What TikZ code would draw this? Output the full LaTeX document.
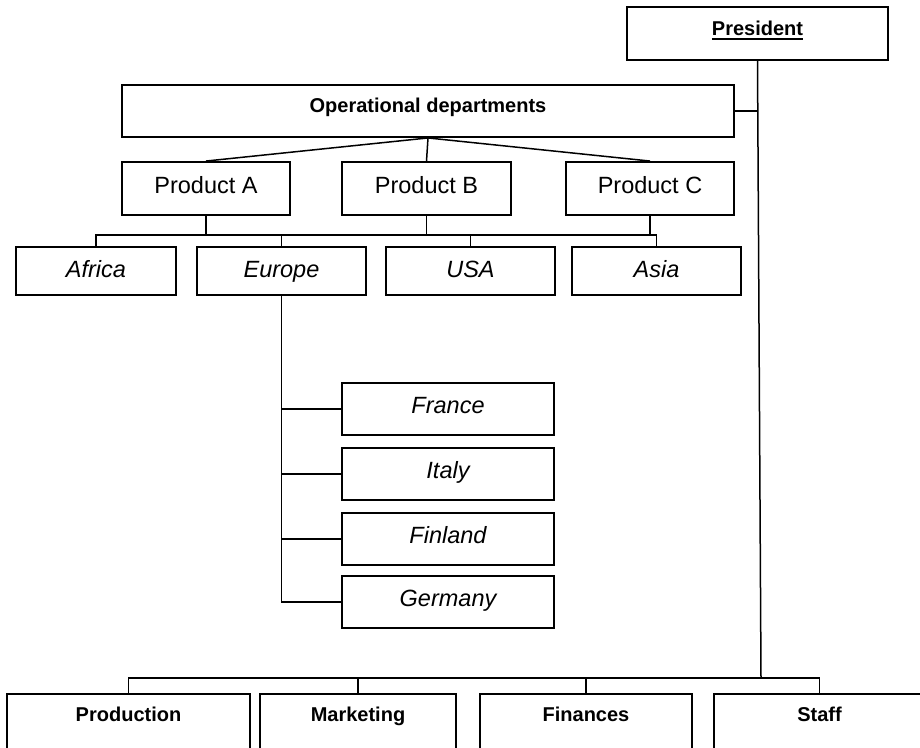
\documentclass[tikz,border=0pt]{standalone}
\usepackage{fontspec}
\setmainfont{Liberation Sans}
\newcommand\ulbar[1]{\setbox0\hbox{#1}\rlap{\rule[-5pt]{\wd0}{2.4pt}}\box0}
\begin{document}
\begin{tikzpicture}[x=1pt,y=-1pt,
  box/.style={draw, line width=1.9pt, inner sep=0pt},
  conn/.style={line width=1.5pt},
  bigtxt/.style={font=\fontsize{23.5}{28}\selectfont, text height=17pt},
  bigit/.style={font=\fontsize{23.5}{28}\selectfont\itshape, text height=17pt},
  bldtxt/.style={font=\fontsize{20}{24}\selectfont\bfseries, text height=14.5pt},
  presbox/.style={box, bldtxt, text depth=11.5pt, minimum width=261pt, minimum height=53pt},
  opsbox/.style={box, bldtxt, text depth=12.5pt, minimum width=612pt, minimum height=52pt},
  prodbox/.style={box, bigtxt, text depth=7.4pt, minimum width=168pt, minimum height=53pt},
  regbox/.style={box, bigit, text depth=4pt, minimum height=48pt},
  ctrybox/.style={box, bigit, text depth=9pt, minimum width=212pt, minimum height=52pt},
  deptbox/.style={box, bldtxt, text depth=18.5pt, minimum height=58pt}
]
\clip (0,0) rectangle (920,747);

% top
\node[presbox] (pres) at (757.5,33.5) {\ulbar{President}};
\node[opsbox] (ops) at (428,111) {Operational departments};

% products
\node[prodbox] (pA) at (206,188.5) {Product A};
\node[prodbox, minimum width=169pt] (pB) at (426.5,188.5) {Product B};
\node[prodbox] (pC) at (650,188.5) {Product C};

% regions
\node[regbox, minimum width=160pt] (africa) at (96,271) {Africa};
\node[regbox, minimum width=169pt] (europe) at (281.5,271) {Europe};
\node[regbox, minimum width=169pt] (usa) at (470.5,271) {USA};
\node[regbox, minimum width=169pt] (asia) at (656.5,271) {Asia};

% countries
\node[ctrybox] (france) at (448,409) {France};
\node[ctrybox] (italy) at (448,474) {Italy};
\node[ctrybox] (finland) at (448,539) {Finland};
\node[ctrybox] (germany) at (448,602) {Germany};

% bottom departments
\node[deptbox, minimum width=243pt] (prodn) at (128.5,723) {Production};
\node[deptbox, minimum width=196pt] (mkt) at (358,723) {Marketing};
\node[deptbox, minimum width=212pt] (fin) at (586,723) {Finances};
\node[deptbox, minimum width=211pt] (staff) at (819.5,723) {Staff};

% coordinates for buses
\coordinate (rbus) at (0,235);
\coordinate (dbus) at (0,678);
\coordinate (pbot) at (761,678);

% ops to products
\draw[conn] (ops.south) -- (pA.north);
\draw[conn] (ops.south) -- (pB.north);
\draw[conn] (ops.south) -- (pC.north);

% products to regions bus
\draw[conn] (africa.north) -- (africa.north |- rbus) -- (asia.north |- rbus) -- (asia.north);
\draw[conn] (pA.south) -- (pA.south |- rbus);
\draw[conn] (pB.south) -- (pB.south |- rbus);
\draw[conn] (pC.south) -- (pC.south |- rbus);
\draw[conn] (europe.north) -- (europe.north |- rbus);
\draw[conn] (usa.north) -- (usa.north |- rbus);

% Europe to countries
\draw[conn] (europe.south) -- (europe.south |- germany.west) -- (germany.west);
\draw[conn] (france.west) -- (france.west -| europe.south);
\draw[conn] (italy.west) -- (italy.west -| europe.south);
\draw[conn] (finland.west) -- (finland.west -| europe.south);

% president line and ops connector
\draw[conn] (pres.south) -- (pbot);
\draw[conn] (ops.east) -- (ops.east -| pres.south);

% bottom bus
\draw[conn] (prodn.north) -- (prodn.north |- dbus) -- (staff.north |- dbus) -- (staff.north);
\draw[conn] (mkt.north) -- (mkt.north |- dbus);
\draw[conn] (fin.north) -- (fin.north |- dbus);
\end{tikzpicture}
\end{document}
